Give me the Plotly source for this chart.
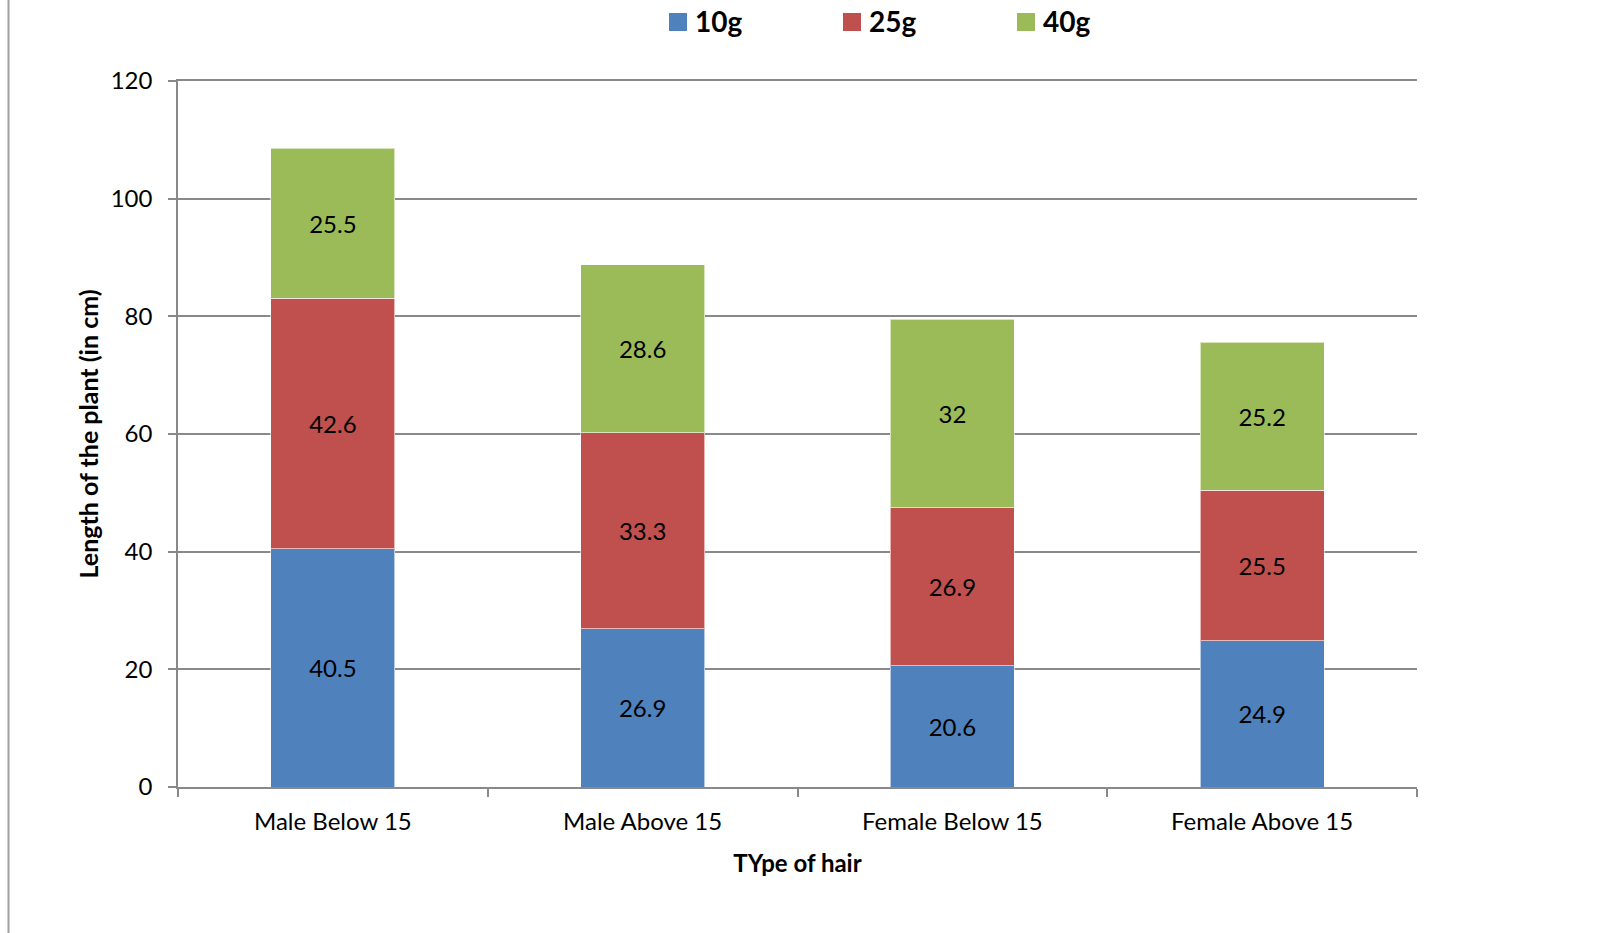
import plotly.graph_objects as go

# Categories and stacked series (length of the plant, cm)
categories = ["Male Below 15", "Male Above 15", "Female Below 15", "Female Above 15"]
series_names = ["10g", "25g", "40g"]
values_10g = [40.5, 26.9, 20.6, 24.9]
values_25g = [42.6, 33.3, 26.9, 25.5]
values_40g = [25.5, 28.6, 32, 25.2]
y_ticks = [0, 20, 40, 60, 80, 100, 120]

colors = ["#4F81BD", "#C0504D", "#9BBB59"]
FONT = "Lato, Calibri, sans-serif"
GRID = "#898989"

fig = go.Figure()
for name, vals, col in zip(series_names, [values_10g, values_25g, values_40g], colors):
    fig.add_trace(go.Bar(
        x=categories, y=vals, name=name,
        marker=dict(color=col, line=dict(color="rgba(255,255,255,0.6)", width=1)),
        text=[f"{v:g}" for v in vals],
        textposition="inside", insidetextanchor="middle",
        textfont=dict(family=FONT, size=24, color="black"),
        constraintext="none", width=0.4, showlegend=False,
    ))

W, H = 1617, 933
L, R, T, B = 178, 200, 81, 146
pw, ph = W - L - R, H - T - B

def px(x):
    return (x - L) / pw

def py(y):
    return (H - B - y) / ph

fig.update_layout(
    width=W, height=H, barmode="stack",
    margin=dict(l=L, r=R, t=T, b=B, pad=0),
    paper_bgcolor="white", plot_bgcolor="white",
    font=dict(family=FONT, size=24, color="black"),
    bargap=0.6,
)
fig.update_xaxes(
    type="category", tickson="boundaries", ticks="outside", ticklen=8,
    tickcolor=GRID, tickwidth=1.5, showline=True, linecolor=GRID, linewidth=1.5,
    mirror=True, showgrid=False, ticklabelstandoff=12,
    tickfont=dict(family=FONT, size=24, color="black"),
    title=dict(text="<b>TYpe of hair</b>", standoff=22,
               font=dict(family=FONT, size=24, color="black")),
)
fig.update_yaxes(
    range=[0, 120], tickvals=y_ticks, ticks="outside", ticklen=8,
    tickcolor=GRID, tickwidth=1.5, showline=True, linecolor=GRID, linewidth=1.5,
    showgrid=True, gridcolor=GRID, gridwidth=1.5, zeroline=False,
    ticklabelstandoff=11,
    tickfont=dict(family=FONT, size=24, color="black"),
    title=dict(text="<b>Length of the plant (in cm)</b>", standoff=5,
               font=dict(family=FONT, size=25, color="black")),
)

# Legend: coloured squares with bold labels across the top
legend_x = [669, 843, 1017]
for name, col, lx in zip(series_names, colors, legend_x):
    fig.add_shape(type="rect", xref="paper", yref="paper",
                  x0=px(lx), x1=px(lx + 18), y0=py(31), y1=py(13),
                  fillcolor=col, line=dict(width=0))
    fig.add_annotation(xref="paper", yref="paper", x=px(lx + 24), y=py(21),
                       xanchor="left", yanchor="middle", showarrow=False,
                       text=f"<b>{name}</b>",
                       font=dict(family=FONT, size=28, color="black"))

# Chart frame edge on the left
fig.add_shape(type="line", xref="paper", yref="paper",
              x0=px(8.5), x1=px(8.5), y0=py(H + 5), y1=py(-5),
              line=dict(color="#A0A0A0", width=2))

fig.write_html("out.html")
